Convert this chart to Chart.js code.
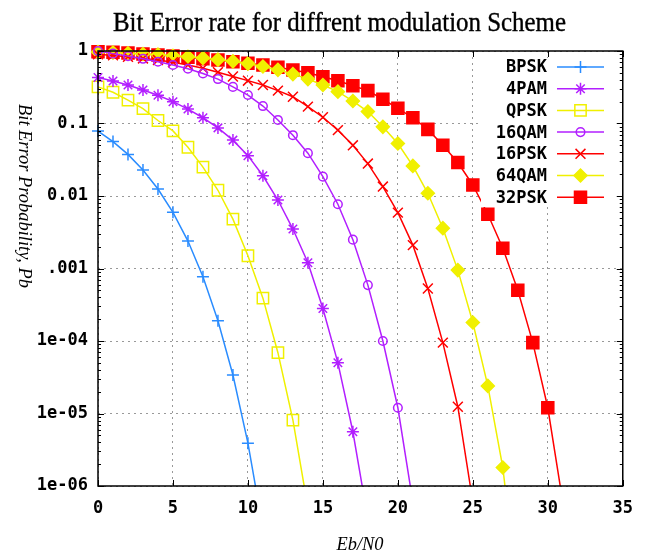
<!DOCTYPE html>
<html><head><meta charset="utf-8">
<script src="https://cdn.jsdelivr.net/npm/chart.js@4.4.1/dist/chart.umd.min.js"></script>
<style>html,body{margin:0;padding:0;background:#fff;}#wrap{width:645px;height:557px;}</style>
</head><body><div id="wrap"><canvas id="c" width="645" height="557"></canvas></div>
<script>
// ---- data ----
const ebN0 = [0,1,2,3,4,5,6,7,8,9,10,11,12,13,14,15,16,17,18,19,20,21,22,23,24,25,26,27,28,29,30,31];
const bpsk  = [0.0786,0.0563,0.0375,0.0229,0.0125,0.00595,0.00239,7.7e-4,1.9e-4,3.4e-5,3.9e-6,2.6e-7];
const pam4  = [0.43,0.385,0.34,0.29,0.245,0.20,0.158,0.12,0.087,0.059,0.036,0.019,0.0088,0.0035,0.0012,2.8e-4,5.0e-5,5.6e-6,3.5e-7];
const qpsk  = [0.32,0.27,0.21,0.16,0.11,0.079,0.047,0.025,0.012,0.0048,0.0015,3.9e-4,6.9e-5,8.1e-6,5e-7];
const qam16 = [1.0,0.92,0.85,0.78,0.71,0.64,0.57,0.49,0.41,0.32,0.247,0.174,0.112,0.069,0.039,0.0185,0.0077,0.0025,5.9e-4,1.0e-4,1.2e-5,6e-7];
const psk16 = [0.9,0.87,0.83,0.79,0.75,0.70,0.64,0.58,0.51,0.445,0.39,0.34,0.284,0.234,0.171,0.122,0.081,0.050,0.028,0.0135,0.0059,0.0021,5.3e-4,9.5e-5,1.24e-5,6e-7];
const qam64 = [0.97,0.95,0.93,0.91,0.89,0.86,0.83,0.80,0.76,0.72,0.67,0.61,0.55,0.48,0.41,0.34,0.275,0.204,0.146,0.090,0.053,0.026,0.0109,0.0036,9.5e-4,1.8e-4,2.4e-5,1.8e-6,3e-8];
const psk32 = [0.98,0.96,0.94,0.91,0.88,0.85,0.82,0.78,0.75,0.71,0.676,0.641,0.596,0.547,0.502,0.442,0.389,0.332,0.284,0.216,0.162,0.120,0.083,0.050,0.029,0.0142,0.0056,0.0019,5.0e-4,9.5e-5,1.2e-5,6e-7];
const seriesNames = ['BPSK','4PAM','QPSK','16QAM','16PSK','64QAM','32PSK'];
const xTickValues = [0,5,10,15,20,25,30,35];
const yTickValues = [1e-6,1e-5,1e-4,1e-3,0.01,0.1,1];
const yTickLabels = ['1e-06','1e-05','1e-04','.001','0.01','0.1','1'];
const titleText = 'Bit Error rate for diffrent modulation Scheme';
const xTitle = 'Eb/N0';
const yTitle = 'Bit Error Probability, Pb';

// ---- styles ----
const BLUE = '#2a8cff', PURPLE = '#b21fff', YELLOW = '#f0f000', RED = '#ff0000';
const styles = [
  {color: BLUE,   pointStyle: 'cross',    radius: 6,   fill: 'rgba(0,0,0,0)'},
  {color: PURPLE, pointStyle: 'star',     radius: 6,   fill: 'rgba(0,0,0,0)'},
  {color: YELLOW, pointStyle: 'rect',     radius: 8,   fill: 'rgba(0,0,0,0)'},
  {color: PURPLE, pointStyle: 'circle',   radius: 4.3, fill: 'rgba(0,0,0,0)'},
  {color: RED,    pointStyle: 'crossRot', radius: 7,   fill: 'rgba(0,0,0,0)'},
  {color: YELLOW, pointStyle: 'rectRot',  radius: 6.5, fill: YELLOW},
  {color: RED,    pointStyle: 'rect',     radius: 8.5, fill: RED}
];
const seriesValues = [bpsk, pam4, qpsk, qam16, psk16, qam64, psk32];

const datasets = seriesValues.map((vals, i) => ({
  label: seriesNames[i],
  data: vals.map((v, j) => ({x: ebN0[j], y: v})),
  borderColor: styles[i].color,
  backgroundColor: styles[i].fill,
  pointBorderColor: styles[i].color,
  pointBackgroundColor: styles[i].fill,
  pointStyle: styles[i].pointStyle,
  pointRadius: styles[i].radius,
  pointBorderWidth: 1.5,
  borderWidth: 1.5,
  tension: 0,
  fill: false,
  clip: {left: 12, top: 12, right: 12, bottom: 0}
}));

const tickFont = {family: '"DejaVu Sans Mono"', size: 17, weight: 'bold'};

const decor = {
  id: 'decor',
  beforeDraw(chart) {
    const ctx = chart.ctx;
    ctx.save(); ctx.fillStyle = '#fff'; ctx.fillRect(0, 0, chart.width, chart.height); ctx.restore();
  },
  afterDatasetsDraw(chart) {
    const ctx = chart.ctx;
    // legend (opaque key box)
    ctx.save();
    ctx.fillStyle = '#fff';
    ctx.fillRect(481, 58, 136, 149);
    ctx.font = 'bold 17px "DejaVu Sans Mono"';
    ctx.textAlign = 'right'; ctx.textBaseline = 'middle';
    const rowY0 = 67, rowH = 21.7;
    seriesNames.forEach((name, i) => {
      const y = rowY0 + i * rowH;
      ctx.fillStyle = '#000';
      ctx.fillText(name, 547, y + 1);
      ctx.strokeStyle = styles[i].color; ctx.lineWidth = 1.5;
      ctx.beginPath(); ctx.moveTo(557, y); ctx.lineTo(604, y); ctx.stroke();
      ctx.fillStyle = styles[i].fill;
      Chart.helpers.drawPoint(ctx, {pointStyle: styles[i].pointStyle, radius: styles[i].radius, rotation: 0, borderWidth: 1.5}, 580.5, y);
    });
    ctx.restore();
  },
  afterDraw(chart) {
    const ctx = chart.ctx, a = chart.chartArea;
    const xs = chart.scales.x, ys = chart.scales.y;
    ctx.save();
    ctx.strokeStyle = '#000'; ctx.lineWidth = 1.5;
    ctx.strokeRect(a.left, a.top, a.right - a.left, a.bottom - a.top);
    ctx.lineWidth = 1;
    ctx.beginPath();
    xTickValues.forEach(v => {
      const px = Math.round(xs.getPixelForValue(v)) + 0.5;
      ctx.moveTo(px, a.bottom); ctx.lineTo(px, a.bottom - 6);
      ctx.moveTo(px, a.top); ctx.lineTo(px, a.top + 6);
    });
    yTickValues.forEach(v => {
      const py = Math.round(ys.getPixelForValue(v)) + 0.5;
      ctx.moveTo(a.left, py); ctx.lineTo(a.left + 6, py);
      ctx.moveTo(a.right, py); ctx.lineTo(a.right - 6, py);
    });
    for (let d = -6; d < 0; d++) {
      for (let k = 2; k <= 9; k++) {
        const py = Math.round(ys.getPixelForValue(k * Math.pow(10, d))) + 0.5;
        ctx.moveTo(a.left, py); ctx.lineTo(a.left + 3, py);
        ctx.moveTo(a.right, py); ctx.lineTo(a.right - 3, py);
      }
    }
    ctx.stroke();

    // title
    ctx.fillStyle = '#000';
    ctx.font = '28px "Liberation Serif"';
    ctx.textAlign = 'left'; ctx.textBaseline = 'alphabetic';
    let w = ctx.measureText(titleText).width;
    ctx.save(); ctx.translate(113, 31); ctx.scale(453 / w, 1);
    ctx.fillText(titleText, 0, 0);
    ctx.strokeStyle = '#000'; ctx.lineWidth = 0.4; ctx.strokeText(titleText, 0, 0);
    ctx.restore();

    // x title
    ctx.font = 'italic 19px "Liberation Serif"';
    ctx.textAlign = 'center'; ctx.textBaseline = 'middle';
    w = ctx.measureText(xTitle).width;
    ctx.save(); ctx.translate(360, 545); ctx.scale(47 / w, 1); ctx.fillText(xTitle, 0, 0); ctx.restore();

    // y title (reads top to bottom)
    ctx.font = 'italic 18px "Liberation Serif"';
    w = ctx.measureText(yTitle).width;
    ctx.save(); ctx.translate(24, 196); ctx.rotate(Math.PI / 2); ctx.scale(184 / w, 1);
    ctx.textAlign = 'center'; ctx.textBaseline = 'middle';
    ctx.fillText(yTitle, 0, 0); ctx.restore();
    ctx.restore();
  }
};

new Chart(document.getElementById('c'), {
  type: 'line',
  data: {datasets},
  options: {
    responsive: false, devicePixelRatio: 1, animation: false,
    layout: {padding: {top: 51, right: 21, left: 0, bottom: 0}},
    plugins: {legend: {display: false}, tooltip: {enabled: false}, title: {display: false}},
    scales: {
      x: {
        type: 'linear', min: 0, max: 35,
        afterBuildTicks: s => { s.ticks = xTickValues.map(v => ({value: v})); },
        afterFit: s => { s.height = 71; },
        ticks: {font: tickFont, color: '#000', padding: 12, maxRotation: 0, autoSkip: false},
        grid: {color: '#999', lineWidth: 1, drawTicks: false},
        border: {display: false, dash: [2, 4]}
      },
      y: {
        type: 'logarithmic', min: 1e-6, max: 1,
        afterBuildTicks: s => { s.ticks = yTickValues.map(v => ({value: v})); },
        afterFit: s => { s.width = 98; },
        ticks: {font: tickFont, color: '#000', padding: 10, autoSkip: false,
          callback: (v) => { const i = yTickValues.indexOf(v); return i >= 0 ? yTickLabels[i] : ''; }},
        grid: {color: '#999', lineWidth: 1, drawTicks: false},
        border: {display: false, dash: [2, 4]}
      }
    }
  },
  plugins: [decor]
});
</script></body></html>
